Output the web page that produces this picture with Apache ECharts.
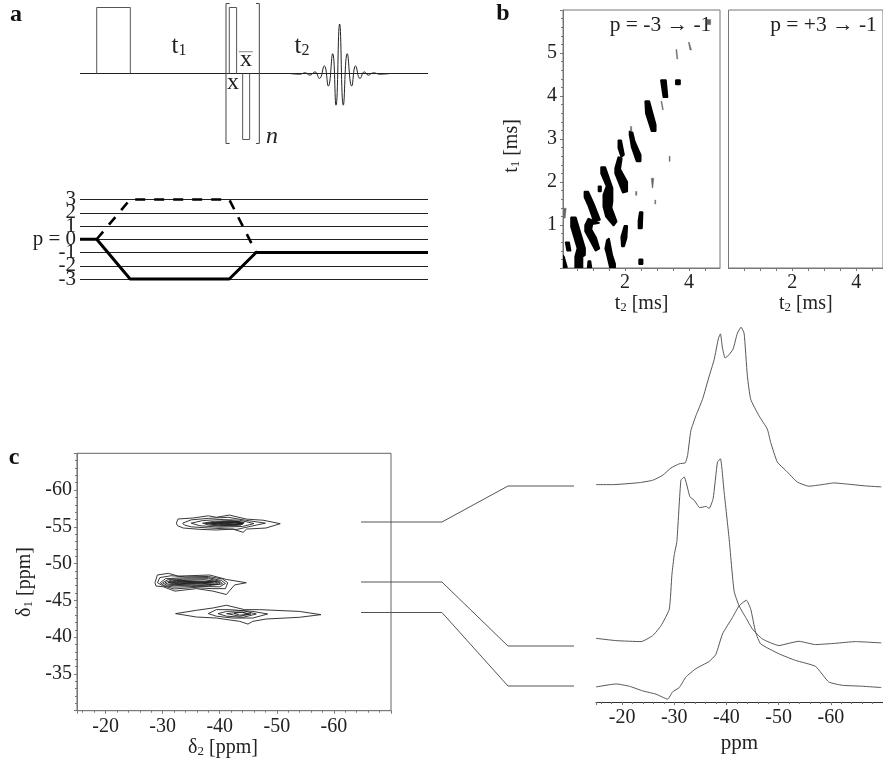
<!DOCTYPE html>
<html><head><meta charset="utf-8">
<style>html,body{margin:0;padding:0;background:#fff}#c{width:883px;height:759px}</style>
<script src="https://cdn.jsdelivr.net/npm/echarts@6/dist/echarts.min.js"></script></head>
<body><div id="c"></div>
<script>
// ---- panel a: pulse sequence (time %, amplitude)
const baseline=[[0,0],[100,0]];
const pulseLong=[[4.8,0],[4.8,1],[14.46,1],[14.46,0]];
const pulseX=[[42.9,0],[42.9,1],[45,1],[45,0]];
const pulseXbar=[[46.74,0],[46.74,-1],[48.75,-1],[48.75,0]];
const bracketL=[[43,1.06],[41.95,1.06],[41.95,-1.06],[43,-1.06]];
const bracketR=[[50.57,1.06],[51.53,1.06],[51.53,-1.06],[50.57,-1.06]];
const overbar=[[45.6,0.33],[49.7,0.33]];
const fid=[[60.15,0],[63.2,-0.01],[64.66,0.01],[66.1,-0.025],[67.5,0.025],[68.8,-0.075],[70.2,0.116],[71.36,-0.19],[72.6,0.3],[73.56,-0.48],[74.6,0.75],[75.67,-0.48],[76.8,0.3],[78.07,-0.19],[79.2,0.116],[80.46,-0.075],[81.7,0.025],[82.85,-0.025],[84.3,0.01],[86.2,-0.01],[89.1,0]];
// ---- panel a: coherence pathways (time %, p)
const pLevelsOuter=[-3,-1,0,1,3];
const pLevelsInner=[-2,2];
const pathSolid=[[0,0],[4.8,0],[14.4,-3],[42.9,-3],[50.6,-1],[100,-1]];
const pathDashed=[[4.8,0],[14.4,3],[42.9,3],[50.6,-1]];
// ---- panel b: time-domain contours (t2 ms, t1 ms)
const blobs=[
[[0.05,0.30],[0.09,0.26],[0.18,0.03],[0.18,0],[0.05,0]],
[[0.31,1.18],[0.46,1.18],[0.75,0.46],[0.75,0.3],[0.67,0.26],[0.67,0],[0.44,0],[0.44,0.26],[0.51,0.46],[0.31,0.96]],
[[0.14,0.6],[0.25,0.6],[0.3,0.4],[0.19,0.4]],
[[0.73,1.78],[0.85,1.78],[1.02,1.5],[1.22,1.12],[1.0,1.1],[0.97,1.2],[0.85,1.45],[0.73,1.65]],
[[0.75,1.0],[0.85,1.15],[1.0,1.1],[1.2,1.05],[0.98,1.02],[0.95,0.9],[1.1,0.7],[1.2,0.45],[1.08,0.4],[0.9,0.65],[0.75,0.85]],
[[1.25,2.35],[1.38,2.35],[1.61,1.86],[1.61,1.55],[1.58,1.4],[1.74,1.08],[1.64,0.98],[1.4,1.2],[1.32,1.43],[1.32,1.7],[1.42,1.9],[1.25,2.2]],
[[1.17,1.9],[1.25,1.9],[1.25,1.78],[1.17,1.78]],
[[1.43,0.65],[1.5,0.69],[1.6,0.3],[1.69,0.1],[1.69,0],[1.53,0],[1.42,0.35],[1.38,0.45]],
[[0.85,0.16],[0.92,0.16],[0.95,0],[0.83,0]],
[[1.79,2.97],[1.88,2.97],[1.97,2.63],[1.88,2.58],[1.79,2.79]],
[[1.79,2.58],[1.9,2.55],[1.85,2.3],[2.07,2.0],[2.07,1.78],[1.93,1.75],[1.69,2.2],[1.69,2.32]],
[[2.14,3.18],[2.24,3.15],[2.3,2.95],[2.49,2.63],[2.49,2.48],[2.36,2.48],[2.21,2.8],[2.14,3.1]],
[[2.63,3.88],[2.76,3.88],[2.96,3.33],[2.96,3.18],[2.83,3.18],[2.65,3.6]],
[[3.12,4.37],[3.28,4.37],[3.33,3.97],[3.2,3.97]],
[[3.59,4.37],[3.72,4.37],[3.72,4.27],[3.59,4.27]],
[[2.46,1.3],[2.55,1.3],[2.53,0.92],[2.42,0.92],[2.42,1.1]],
[[1.98,0.98],[2.07,0.98],[2.05,0.7],[1.97,0.5],[1.9,0.5],[1.88,0.72]],
[[2.44,0.2],[2.55,0.2],[2.55,0.09],[2.44,0.09]]];
const faintMarks=[
[[2.82,2.09],[2.9,2.09],[2.87,1.86],[2.85,1.86]],
[[2.93,1.58],[2.96,1.58],[2.96,1.49],[2.93,1.49]],
[[3.38,2.6],[3.41,2.6],[3.41,2.48],[3.38,2.48]],
[[3.12,3.88],[3.15,3.88],[3.2,3.68],[3.17,3.68]],
[[3.59,5.08],[3.62,5.08],[3.65,4.86],[3.62,4.86]],
[[3.98,5.25],[4.01,5.25],[4.08,5.07],[4.03,5.07]],
[[2.33,1.78],[2.37,1.78],[2.37,1.69],[2.33,1.69]],
[[2.17,3.29],[2.21,3.29],[2.21,3.18],[2.17,3.18]],
[[0.09,1.39],[0.16,1.39],[0.13,1.16],[0.07,1.16]],
[[4.56,5.78],[4.68,5.78],[4.68,5.66],[4.56,5.66]]];
// ---- panel c: 2D contours (d2 ppm, d1 ppm)
const contours=[
[[-32.4,-55.5],[-32.7,-56.07],[-35.3,-56.2],[-38,-56.5],[-39.4,-56.3],[-41.7,-56.6],[-44.7,-56.05],[-47.6,-55.9],[-50.6,-55.43],[-48.1,-54.84],[-44.7,-54.7],[-44.1,-54.25],[-42.3,-54.7],[-39.4,-54.57],[-36.5,-54.66],[-33.6,-54.84],[-32.6,-55.16]],
[[-33.5,-55.5],[-35,-55.95],[-38,-56.15],[-41.5,-56.3],[-44.5,-55.9],[-48,-55.5],[-45,-55],[-43,-54.65],[-38,-54.85],[-35,-55],[-33.8,-55.25]],
[[-35,-55.5],[-37,-55.85],[-40,-56],[-43.5,-55.9],[-46,-55.45],[-44,-55.05],[-40,-54.95],[-36.5,-55.15]],
[[-37,-55.5],[-39,-55.75],[-42,-55.85],[-44.3,-55.6],[-43.5,-55.15],[-40,-55.1],[-38,-55.25]],
[[-37.5,-55.45],[-40,-55.65],[-43,-55.75],[-44.2,-55.5],[-43,-55.25],[-40,-55.2]],
[[-38.5,-55.5],[-40,-55.7],[-43.5,-55.7],[-44,-55.35],[-41,-55.2],[-39,-55.3]],
[[-39,-55.45],[-41,-55.6],[-43.8,-55.55],[-43,-55.3],[-40.5,-55.3]],
[[-40,-55.45],[-41.5,-55.5],[-43.5,-55.6],[-43.2,-55.4],[-41,-55.35]],
[[-41,-55.5],[-42.5,-55.65],[-44,-55.5],[-42.5,-55.38]],
[[-38,-55.5],[-39.5,-55.6],[-41,-55.55],[-39.5,-55.42]],
[[-28.66,-47.4],[-29.07,-48.45],[-31,-48.68],[-32.7,-48.3],[-38.25,-48.45],[-41.16,-47.85],[-44.65,-47.4],[-42.6,-47.1],[-41.16,-45.8],[-38.8,-46.26],[-35.9,-46.6],[-32.15,-46.26],[-30.1,-46.85],[-28.84,-46.95]],
[[-29.1,-47.4],[-29.5,-48.1],[-31.5,-48.35],[-34,-48.2],[-38,-48.25],[-40.5,-47.9],[-41.4,-47.4],[-41,-46.6],[-38.5,-46.6],[-35.5,-46.75],[-32,-46.55],[-30,-47]],
[[-29.6,-47.4],[-30.5,-47.95],[-33,-48.05],[-38,-48.1],[-40.3,-47.7],[-41,-47.3],[-40,-46.85],[-36,-46.9],[-32,-46.8],[-30.3,-47]],
[[-30,-47.4],[-31,-47.85],[-33.5,-47.9],[-38,-47.95],[-40,-47.6],[-40.5,-47.25],[-38,-47],[-35,-47.05],[-32,-47],[-30.6,-47.1]],
[[-30.4,-47.4],[-31.5,-47.75],[-34,-47.75],[-37.5,-47.8],[-39.8,-47.45],[-39.5,-47.15],[-36,-47.2],[-32,-47.15],[-31,-47.2]],
[[-31,-47.4],[-33,-47.7],[-36,-47.6],[-39,-47.6],[-39.5,-47.35],[-36,-47.3],[-32,-47.25]],
[[-31.8,-47.45],[-33.5,-47.6],[-37,-47.5],[-39,-47.5],[-36,-47.38],[-33,-47.35]],
[[-32.5,-47.5],[-34,-47.55],[-36,-47.5],[-38.5,-47.45],[-36,-47.42],[-34,-47.42]],
[[-37,-47.35],[-38.5,-47.65],[-40,-47.5],[-40,-47.2],[-38.5,-47.15]],
[[-31,-47.5],[-33,-47.8],[-35,-47.45],[-33,-47.2]],
[[-32.27,-43.2],[-35.9,-43.65],[-38.84,-43.97],[-41.16,-44.34],[-44.36,-43.74],[-47,-43.74],[-53.95,-43.5],[-57.73,-43.06],[-53.95,-42.7],[-48.14,-42.47],[-45.8,-42.15],[-44.94,-41.78],[-43.5,-42.15],[-39.4,-42.6],[-35.9,-42.74]],
[[-38,-43.2],[-39.4,-43.74],[-41.7,-43.74],[-45.8,-43.5],[-48.4,-43.15],[-45.8,-42.6],[-42.3,-42.6],[-39.4,-42.85]],
[[-39.7,-43.2],[-41.2,-43.5],[-44.1,-43.6],[-46.4,-43.15],[-44.1,-42.7],[-41.2,-42.85]],
[[-41.2,-43.2],[-43.5,-43.4],[-45.5,-43.15],[-43.5,-42.85]],
[[-42.5,-43.25],[-44,-43.4],[-45,-43.1],[-43.5,-43.0]]];
// ---- connector traces between panel c and slices
const linkTop=[[0,82],[38,82],[69,100],[100,100]];
const linkMid=[[0,52],[38,52],[69,20],[100,20]];
const linkLow=[[0,36.75],[38,36.75],[69,0],[100,0]];
// ---- slices (ppm, intensity with stacking offset)
const sliceTop=[[-15.03,219.3],[-18.2,219.3],[-23.3,221.3],[-25.86,223.7],[-27.77,228.7],[-29.36,236],[-30.96,240.3],[-32.1,241.3],[-32.55,248.7],[-33.18,273.7],[-34.14,288.7],[-35.41,305.3],[-36.69,328.7],[-37.64,345.3],[-38.47,367],[-38.85,371.3],[-39.24,357],[-39.75,347],[-40.5,350.3],[-41.27,356],[-42.1,372],[-42.8,378],[-43.38,372],[-44.01,328.7],[-44.65,305.3],[-46.24,288.7],[-47.83,275.3],[-48.47,262],[-49.75,242],[-51.34,233.7],[-53.57,222],[-55.8,217.7],[-58.34,219.3],[-60.57,221],[-63.44,219.7],[-66.62,218],[-69.68,217]];
const sliceMid=[[-15.03,64.3],[-18.85,62],[-23.63,61],[-25.86,67],[-27.45,77],[-29.04,93.7],[-29.55,128.7],[-30,148.7],[-30.5,162],[-31.27,223.7],[-31.9,227],[-33,207],[-33.8,203.7],[-34.9,196],[-36.05,197.3],[-36.69,195.3],[-37.45,205.3],[-38.28,242],[-38.85,245.3],[-39.55,212],[-40.5,165.3],[-41.46,112],[-42.42,97],[-43.7,85.3],[-44.97,73.7],[-46.88,63.7],[-50.06,57],[-51.97,59.3],[-53.89,61.3],[-57.07,58],[-60.89,59.3],[-64.71,61],[-69.68,59.7]];
const sliceLow=[[-15.03,15.3],[-18.85,18.3],[-21.4,16],[-23.95,11.3],[-26.5,8],[-28.73,3],[-29.68,10.3],[-30.96,14.7],[-32.23,25.3],[-34.14,33.7],[-36.69,41],[-37.96,48],[-39.24,68.7],[-41.15,85.3],[-42.42,97],[-43.82,102.7],[-44.65,93.7],[-45.6,70.3],[-46.56,58.7],[-50.06,48.7],[-53.25,42],[-57.07,36],[-59.6,20.3],[-62.17,17],[-65.99,16],[-69.68,14.7]];
// ---- tick values
const bTicksX=[0.5,1,1.5,2,2.5,3,3.5,4,4.5];
const bLabelsX=[2,4];

const SERIF='"Liberation Serif"';
const TXT={fontFamily:SERIF,fontSize:20,color:'#222'};
const axisGray='#777';
const sub={fontFamily:SERIF,fontSize:13,color:'#222',padding:[7,0,0,0],verticalAlign:'bottom'};
const nm={fontFamily:SERIF,fontSize:20,color:'#222'};
const hidden=(i,min,max)=>({gridIndex:i,type:'value',min,max,show:false});
const lineS=(x,y,data,color,width,extra)=>Object.assign({type:'line',xAxisIndex:x,yAxisIndex:y,data,symbol:'none',silent:true,clip:false,lineStyle:{color,width}},extra||{});
const polyRender=(shapes,style)=>(p,api)=>({type:'polygon',shape:{points:shapes[api.value(0)].map(q=>api.coord(q))},style});
const polyS=(x,shapes,style,z)=>({type:'custom',xAxisIndex:x,yAxisIndex:x,silent:true,clip:true,z:z||3,data:shapes.map((_,i)=>[i]),renderItem:polyRender(shapes,style)});
const frameAxis={axisLine:{show:true,onZero:false,lineStyle:{color:axisGray,width:1}},axisTick:{show:true,length:3,lineStyle:{color:axisGray}},minorTick:{show:true,length:2,lineStyle:{color:axisGray}},splitLine:{show:false}};

const text=(x,y,t,o)=>Object.assign({type:'text',x,y,silent:true,style:Object.assign({text:t,fontFamily:SERIF,fontSize:24,fill:'#222',textVerticalAlign:'middle',textAlign:'center'},o||{})});
const pLabel=v=>v===0?'p = 0':String(v);

const option={
 animation:false,backgroundColor:'#fff',
 grid:[
  {left:80,width:348,top:0.9,height:145.2},
  {left:80,width:348,top:199.5,height:79.5},
  {left:563,width:157,top:10,height:258,show:true,borderColor:axisGray,borderWidth:1},
  {left:728.5,width:154.5,top:10,height:258,show:true,borderColor:axisGray,borderWidth:1},
  {left:77,width:314,top:453.3,height:257.4,show:true,borderColor:'#666',borderWidth:1},
  {left:596,width:287,top:320.3,height:385},
  {left:361,width:213,top:486,height:200}
 ],
 xAxis:[
  hidden(0,0,100),hidden(1,0,100),
  Object.assign({gridIndex:2,type:'value',min:0.06,max:4.97,position:'bottom',name:'{a|t}{s|2}{a| [ms]}',nameLocation:'middle',nameGap:21,nameTextStyle:{rich:{a:nm,s:sub}},axisLabel:Object.assign({},TXT,{margin:5,customValues:bLabelsX})},frameAxis,{axisTick:{show:true,length:3,lineStyle:{color:axisGray},customValues:bTicksX},minorTick:{show:false}}),
  Object.assign({gridIndex:3,type:'value',min:0,max:4.84,position:'bottom',name:'{a|t}{s|2}{a| [ms]}',nameLocation:'middle',nameGap:21,nameTextStyle:{rich:{a:nm,s:sub}},axisLabel:Object.assign({},TXT,{margin:5,customValues:bLabelsX})},frameAxis,{axisTick:{show:true,length:3,lineStyle:{color:axisGray},customValues:bTicksX},minorTick:{show:false}}),
  Object.assign({gridIndex:4,type:'value',inverse:true,min:-70,max:-15,interval:10,name:'{a|δ}{s|2}{a| [ppm]}',nameLocation:'middle',nameGap:22,nameTextStyle:{padding:[0,22,0,0],rich:{a:nm,s:sub}},axisLabel:Object.assign({},TXT,{margin:6,showMinLabel:false,showMaxLabel:false})},frameAxis,{minorTick:{show:true,length:2,splitNumber:5,lineStyle:{color:axisGray}}}),
  Object.assign({gridIndex:5,type:'value',inverse:true,min:-70,max:-15,interval:10,name:'ppm',nameLocation:'middle',nameGap:26,nameTextStyle:Object.assign({},nm,{fontSize:21}),axisLabel:Object.assign({},TXT,{margin:6,showMinLabel:false,showMaxLabel:false})},frameAxis,{axisLine:{show:true,onZero:false,lineStyle:{color:'#333',width:1}},minorTick:{show:true,length:2,splitNumber:5,lineStyle:{color:axisGray}}}),
  hidden(6,0,100)
 ],
 yAxis:[
  hidden(0,-1.1,1.1),
  {gridIndex:1,type:'value',min:-3,max:3,interval:1,axisLine:{show:false},axisTick:{show:false},
   splitLine:{show:true,showMinLine:true,showMaxLine:true,lineStyle:{color:'#222',width:1.2}},
   axisLabel:Object.assign({},TXT,{fontSize:21,margin:4,showMinLabel:true,showMaxLabel:true,customValues:pLevelsOuter,formatter:pLabel})},
  Object.assign({gridIndex:2,type:'value',min:0,max:6,interval:1,name:'{a|t}{s|1}{a| [ms]}',nameLocation:'middle',nameGap:41,nameTextStyle:{padding:[0,14,0,0],rich:{a:nm,s:sub}},axisLabel:Object.assign({},TXT,{margin:6,showMinLabel:false,showMaxLabel:false})},frameAxis,{minorTick:{show:true,length:2,splitNumber:5,lineStyle:{color:axisGray}}}),
  {gridIndex:3,type:'value',min:0,max:6,interval:1,show:false},
  Object.assign({gridIndex:4,type:'value',inverse:true,min:-65,max:-30,interval:5,name:'{a|δ}{s|1}{a| [ppm]}',nameLocation:'middle',nameGap:42,nameTextStyle:{rich:{a:nm,s:sub}},axisLabel:Object.assign({},TXT,{margin:5,showMinLabel:false,showMaxLabel:false})},frameAxis,{minorTick:{show:true,length:2,splitNumber:5,lineStyle:{color:axisGray}}}),
  hidden(5,0,385),hidden(6,0,100),
  {gridIndex:1,type:'value',min:-3,max:3,position:'left',axisLine:{show:false},axisTick:{show:false},splitLine:{show:false},
   axisLabel:Object.assign({},TXT,{fontSize:21,margin:4,customValues:pLevelsInner,formatter:pLabel})}
 ],
 series:[
  lineS(0,0,baseline,'#222',1),
  lineS(0,0,pulseLong,'#555',1),
  lineS(0,0,pulseX,'#555',1),
  lineS(0,0,pulseXbar,'#555',1),
  lineS(0,0,bracketL,'#444',1),
  lineS(0,0,bracketR,'#444',1),
  lineS(0,0,overbar,'#888',1),
  lineS(0,0,fid,'#222',1,{smooth:0.5}),
  lineS(1,1,pathSolid,'#000',3,{z:4}),
  lineS(1,1,pathDashed,'#000',2.6,{z:4,lineStyle:{color:'#000',width:2.6,type:[10,9]}}),
  polyS(2,blobs,{fill:'#000',stroke:'#000',lineWidth:1.6,lineJoin:'bevel'}),
  polyS(2,faintMarks,{fill:'#666',stroke:'#666',lineWidth:0.4}),
  lineS(3,3,[],'#000',1),
  polyS(4,contours,{fill:'none',stroke:'#222',lineWidth:0.9}),
  lineS(6,6,linkTop,'#555',1,{z:5}),
  lineS(6,6,linkMid,'#555',1,{z:5}),
  lineS(6,6,linkLow,'#555',1,{z:5}),
  lineS(5,5,sliceTop,'#444',0.9,{smooth:0.15}),
  lineS(5,5,sliceMid,'#444',0.9,{smooth:0.15}),
  lineS(5,5,sliceLow,'#444',0.9,{smooth:0.15})
 ],
 graphic:{elements:[
  text(16,15,'a',{fontWeight:'bold',fontSize:24,fill:'#111'}),
  text(503,14,'b',{fontWeight:'bold',fontSize:24,fill:'#111'}),
  text(14,458,'c',{fontWeight:'bold',fontSize:24,fill:'#111'}),
  text(179,46,'{a|t}{s|1}',{rich:{a:{fontFamily:SERIF,fontSize:25,color:'#222'},s:{fontFamily:SERIF,fontSize:16,color:'#222',padding:[9,0,0,0],verticalAlign:'bottom'}}}),
  text(302,46,'{a|t}{s|2}',{rich:{a:{fontFamily:SERIF,fontSize:25,color:'#222'},s:{fontFamily:SERIF,fontSize:16,color:'#222',padding:[9,0,0,0],verticalAlign:'bottom'}}}),
  text(246,60,'x',{fontSize:24}),
  text(233,83,'x',{fontSize:24}),
  text(272,137,'n',{fontSize:24,fontStyle:'italic'}),
  text(660.5,25,'p = -3 → -1',{fontSize:21.5}),
  text(823.5,25,'p = +3 → -1',{fontSize:21.5})
 ]}
};
echarts.init(document.getElementById('c'),null,{renderer:'canvas'}).setOption(option);
</script></body></html>
